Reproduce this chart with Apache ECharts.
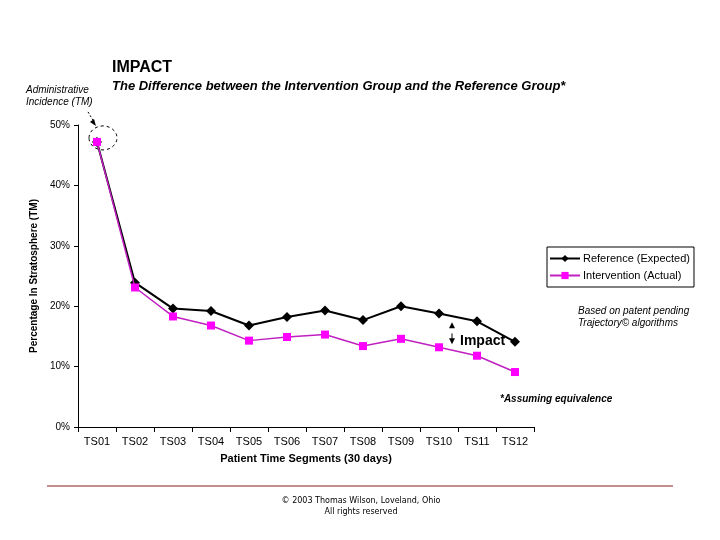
<!DOCTYPE html>
<html><head><meta charset="utf-8">
<script src="https://cdn.jsdelivr.net/npm/echarts@6/dist/echarts.min.js"></script>
<style>html,body{margin:0;padding:0;background:#fff}#c{width:720px;height:540px}</style>
</head><body><div id="c"></div>
<script>
const categories = ['TS01','TS02','TS03','TS04','TS05','TS06','TS07','TS08','TS09','TS10','TS11','TS12'];
const referenceExpected = [47.2, 23.9, 19.6, 19.2, 16.8, 18.2, 19.3, 17.7, 20.0, 18.8, 17.5, 14.1];
const interventionActual = [47.2, 23.1, 18.3, 16.8, 14.3, 14.9, 15.3, 13.4, 14.6, 13.2, 11.8, 9.1];
const yTicks = [0, 10, 20, 30, 40, 50];

const F = 'Liberation Sans, Arial, sans-serif';
const chart = echarts.init(document.getElementById('c'));
const option = {
  animation: false,
  backgroundColor: '#fff',
  grid: {left: 78, right: 186, top: 125, bottom: 113, containLabel: false},
  title: [
    {text: 'IMPACT', left: 107, top: 55, textStyle: {fontFamily: F, fontSize: 16, fontWeight: 'bold', color: '#000'}},
    {text: 'The Difference between the Intervention Group and the Reference Group*', left: 107, top: 75,
     textStyle: {fontFamily: F, fontSize: 13, fontWeight: 'bold', fontStyle: 'italic', color: '#000'}}
  ],
  legend: {
    orient: 'vertical', left: 547, top: 247,
    borderColor: '#000', borderWidth: 1, padding: [6, 4, 6, 2], itemGap: 6,
    itemWidth: 30, itemHeight: 9,
    textStyle: {fontFamily: F, fontSize: 11, color: '#000', width: 108, padding: [0, 0, 0, -2]},
    data: ['Reference (Expected)', 'Intervention (Actual)']
  },
  xAxis: {
    type: 'category', data: categories, boundaryGap: true,
    name: 'Patient Time Segments (30 days)', nameLocation: 'middle', nameGap: 26,
    nameTextStyle: {fontFamily: F, fontSize: 11, fontWeight: 'bold', color: '#000'},
    axisLine: {lineStyle: {color: '#000', width: 1}},
    axisTick: {show: true, length: 5, lineStyle: {color: '#000'}},
    axisLabel: {fontFamily: F, fontSize: 11, color: '#000', margin: 9, interval: 0}
  },
  yAxis: {
    type: 'value', min: yTicks[0], max: yTicks[yTicks.length - 1], interval: 10,
    name: 'Percentage In Stratosphere (TM)', nameLocation: 'middle', nameGap: 32,
    nameTextStyle: {fontFamily: F, fontSize: 10, fontWeight: 'bold', color: '#000'},
    axisLine: {show: true, lineStyle: {color: '#000', width: 1}},
    axisTick: {show: true, length: 4, lineStyle: {color: '#000'}},
    splitLine: {show: false},
    axisLabel: {fontFamily: F, fontSize: 10, color: '#000', margin: 8, formatter: '{value}%'}
  },
  series: [
    {name: 'Reference (Expected)', type: 'line', data: referenceExpected,
     symbol: 'diamond', symbolSize: 10, lineStyle: {color: '#000', width: 2},
     itemStyle: {color: '#000'}, z: 2},
    {name: 'Intervention (Actual)', type: 'line', data: interventionActual,
     symbol: 'rect', symbolSize: 8, lineStyle: {color: '#c020c0', width: 1.5},
     itemStyle: {color: '#ff00ff'}, z: 3}
  ]
};
chart.setOption(option);

const p0 = chart.convertToPixel({xAxisIndex: 0, yAxisIndex: 0}, [0, interventionActual[0]]);
const q9 = chart.convertToPixel({xAxisIndex: 0, yAxisIndex: 0}, [9, referenceExpected[9]]);
const q10 = chart.convertToPixel({xAxisIndex: 0, yAxisIndex: 0}, [10, referenceExpected[10]]);
const pA = [(q9[0] + q10[0]) / 2 - 6, (q9[1] + q10[1]) / 2];
const it = {fontFamily: F, fontSize: 10, fontStyle: 'italic', fill: '#000'};
chart.setOption({
  graphic: [
    {type: 'ellipse', shape: {cx: p0[0] + 6, cy: p0[1] - 4, rx: 14, ry: 12},
     style: {fill: 'none', stroke: '#000', lineWidth: 1, lineDash: [3, 3]}},
    {type: 'line', shape: {x1: p0[0] - 9, y1: p0[1] - 30, x2: p0[0] - 3, y2: p0[1] - 20},
     style: {stroke: '#000', lineWidth: 1, lineDash: [2, 2]}},
    {type: 'polygon', shape: {points: [[p0[0] - 1, p0[1] - 16], [p0[0] - 7, p0[1] - 20], [p0[0] - 3, p0[1] - 23]]},
     style: {fill: '#000'}},
    {type: 'text', left: 26, top: 84, style: Object.assign({text: 'Administrative\nIncidence (TM)', lineHeight: 12, align: 'center'}, it)},
    {type: 'text', left: 578, top: 305, style: Object.assign({text: 'Based on patent pending\nTrajectory\u00a9 algorithms', lineHeight: 12, align: 'center'}, it)},
    {type: 'text', left: 500, top: 394, style: {text: '*Assuming equivalence', fontFamily: F, fontSize: 10, fontStyle: 'italic', fontWeight: 'bold', fill: '#000'}},
    {type: 'text', x: pA[0] + 8, y: pA[1] + 17, style: {text: 'Impact', fontFamily: F, fontSize: 14, fontWeight: 'bold', fill: '#000'}},
    {type: 'polygon', shape: {points: [[pA[0] - 3, pA[1] + 11], [pA[0] + 3, pA[1] + 11], [pA[0], pA[1] + 5]]}, style: {fill: '#000'}},
    {type: 'polygon', shape: {points: [[pA[0] - 3, pA[1] + 21], [pA[0] + 3, pA[1] + 21], [pA[0], pA[1] + 27]]}, style: {fill: '#000'}},
    {type: 'line', shape: {x1: pA[0], y1: pA[1] + 16, x2: pA[0], y2: pA[1] + 22}, style: {stroke: '#000', lineWidth: 1}},
    {type: 'line', shape: {x1: 47, y1: 486, x2: 673, y2: 486}, style: {stroke: '#8b1a1a', lineWidth: 1}},
    {type: 'text', x: 361, y: 495, style: {text: '\u00a9 2003 Thomas Wilson, Loveland, Ohio\nAll rights reserved', align: 'center', lineHeight: 11, fontFamily: 'DejaVu Sans, sans-serif', fontSize: 8, fill: '#000'}}
  ]
});
</script></body></html>
